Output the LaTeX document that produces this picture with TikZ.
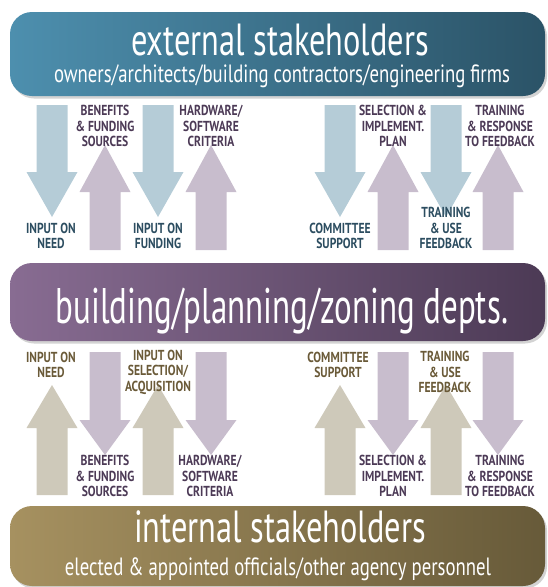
\documentclass[tikz,border=0pt]{standalone}
\usepackage{fontspec}
\newfontfamily\titlefont[FakeStretch=0.72]{PT Sans}
\newfontfamily\subfont[FakeStretch=0.75]{PT Sans}
\newfontfamily\midfont[FakeStretch=0.66]{PT Sans}
\newfontfamily\labfont[FakeStretch=0.8]{PT Sans Bold}
\usetikzlibrary{shadows}
\definecolor{extL}{HTML}{4D8FAE}
\definecolor{extR}{HTML}{2B5367}
\definecolor{depL}{HTML}{886C92}
\definecolor{depR}{HTML}{4C3A55}
\definecolor{intL}{HTML}{A69160}
\definecolor{intR}{HTML}{675A39}
\definecolor{arBlue}{HTML}{B5CCD7}
\definecolor{arPurple}{HTML}{C8BDCD}
\definecolor{arBeige}{HTML}{CEC9BA}
\definecolor{txBlue}{HTML}{2C4D60}
\definecolor{txPurple}{HTML}{4C3A56}
\definecolor{txBeige}{HTML}{6A5A38}
\newcommand\fatarrow[5]{%
  \fill[#1] (#2-15.5,#3) -- (#2+15.5,#3) -- (#2+15.5,#4) -- (#2+25.5,#4)
    -- (#2,#5) -- (#2-25.5,#4) -- (#2-15.5,#4) -- cycle;}
\begin{document}
\begin{tikzpicture}[x=1pt,y=-1pt,
  bar/.style={rounded corners=22pt, minimum width=535pt, inner sep=0pt,
    drop shadow={opacity=0.35, shadow xshift=2pt, shadow yshift=-2.5pt}},
  ttl/.style={anchor=base, text=white, inner sep=0pt},
  lab/.style={align=center, inner sep=0pt,
    font=\labfont\fontsize{14.5}{15.5}\selectfont},
  lblue/.style={lab, text=txBlue},
  lpurple/.style={lab, text=txPurple},
  lbeige/.style={lab, text=txBeige}]
\useasboundingbox (0,0) rectangle (548,587);
% bars
\node[bar, minimum height=84pt, left color=extL, right color=extR] (ext) at (277.5,54) {};
\node[bar, minimum height=78pt, left color=depL, right color=depR] (dep) at (277.5,302) {};
\node[bar, minimum height=80pt, left color=intL, right color=intR] (int) at (277.5,546) {};
\node[ttl, font=\titlefont\fontsize{45}{47}\selectfont] (extT) at (280,55) {external stakeholders};
\node[ttl, font=\subfont\fontsize{25}{27}\selectfont] (extS) at (282,82) {owners/architects/building contractors/engineering firms};
\node[ttl, font=\midfont\fontsize{50}{52}\selectfont] (depT) at (282,323) {building/planning/zoning depts.};
\node[ttl, font=\titlefont\fontsize{45}{47}\selectfont] (intT) at (280,542) {internal stakeholders};
\node[ttl, font=\subfont\fontsize{25}{27}\selectfont] (intS) at (278,575) {elected \& appointed officials/other agency personnel};
% upper arrows
\foreach \c in {52,158,340,446} {\fatarrow{arBlue}{\c}{105}{172}{217}}
\foreach \c in {105,211,393,498} {\fatarrow{arPurple}{\c}{250}{192}{145}}
% lower arrows
\foreach \c in {52,158,340,446} {\fatarrow{arBeige}{\c}{495}{428}{385}}
\foreach \c in {105,211,393,498} {\fatarrow{arPurple}{\c}{352}{420}{455}}
% upper labels
\node[lpurple] (u1) at (105,126) {BENEFITS\\\& FUNDING\\SOURCES};
\node[lpurple] (u2) at (211,126) {HARDWARE/\\SOFTWARE\\CRITERIA};
\node[lpurple] (u3) at (393,126) {SELECTION \&\\IMPLEMENT.\\PLAN};
\node[lpurple] (u4) at (500,126) {TRAINING\\\& RESPONSE\\TO FEEDBACK};
\node[lblue] (d1) at (51,236) {INPUT ON\\NEED};
\node[lblue] (d2) at (158,236) {INPUT ON\\FUNDING};
\node[lblue] (d3) at (340,236) {COMMITTEE\\SUPPORT};
\node[lblue] (d4) at (446,228) {TRAINING\\\& USE\\FEEDBACK};
% lower labels
\node[lbeige] (b1) at (51,365) {INPUT ON\\NEED};
\node[lbeige] (b2) at (158,372) {INPUT ON\\SELECTION/\\ACQUISITION};
\node[lbeige] (b3) at (338,365) {COMMITTEE\\SUPPORT};
\node[lbeige] (b4) at (445,372) {TRAINING\\\& USE\\FEEDBACK};
\node[lpurple] (p1) at (105,476) {BENEFITS\\\& FUNDING\\SOURCES};
\node[lpurple] (p2) at (210,476) {HARDWARE/\\SOFTWARE\\CRITERIA};
\node[lpurple] (p3) at (393,476) {SELECTION \&\\IMPLEMENT.\\PLAN};
\node[lpurple] (p4) at (500,476) {TRAINING\\\& RESPONSE\\TO FEEDBACK};
\end{tikzpicture}
\end{document}
